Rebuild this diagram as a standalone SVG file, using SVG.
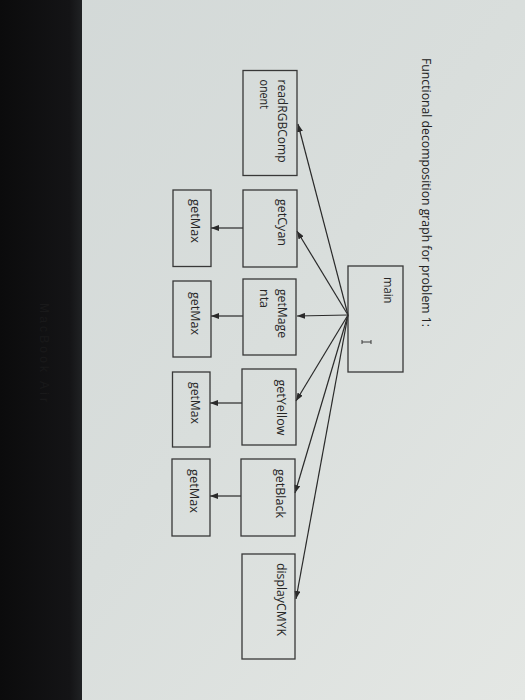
<svg xmlns="http://www.w3.org/2000/svg" width="525" height="700" viewBox="0 0 525 700">
<defs>
<linearGradient id="page" x1="0" y1="0" x2="1" y2="1">
<stop offset="0" stop-color="#d2d8d7"/>
<stop offset="0.5" stop-color="#d9dedc"/>
<stop offset="1" stop-color="#e4e7e4"/>
</linearGradient>
<linearGradient id="bezel" x1="0" y1="0" x2="1" y2="0">
<stop offset="0" stop-color="#0b0b0c"/>
<stop offset="0.85" stop-color="#141416"/>
<stop offset="1" stop-color="#202224"/>
</linearGradient>
<marker id="ah" markerUnits="userSpaceOnUse" markerWidth="8" markerHeight="6" refX="8" refY="3" orient="auto">
<path d="M0,0 L8,3 L0,6 Z" fill="#2a2a2a"/>
</marker>
<style>
.box{fill:none;stroke:#383838;stroke-width:1.3}
.lbl{font-family:"Open Sans","Liberation Sans",Arial,sans-serif;font-size:12px;fill:#262626}
.ttl{font-family:"Open Sans","Liberation Sans",Arial,sans-serif;font-size:13.5px;fill:#222222}
.ln{stroke:#2a2a2a;stroke-width:1.2;fill:none;marker-end:url(#ah)}
</style>
</defs>
<rect x="0" y="0" width="525" height="700" fill="url(#page)"/>
<rect x="0" y="0" width="82" height="700" fill="url(#bezel)"/>
<text transform="translate(40,303) rotate(90)" font-family="Liberation Sans, Arial, sans-serif" font-size="12" fill="#19191a" textLength="99">MacBook Air</text>

<text class="ttl" transform="translate(422,58) rotate(90)" textLength="269" lengthAdjust="spacingAndGlyphs">Functional decomposition graph for problem 1:</text>

<g id="connectors">
<line class="ln" x1="348" y1="315" x2="298" y2="124"/>
<line class="ln" x1="348" y1="315" x2="297" y2="231"/>
<line class="ln" x1="348" y1="315" x2="297" y2="316"/>
<line class="ln" x1="348" y1="315" x2="296" y2="401"/>
<line class="ln" x1="348" y1="315" x2="295" y2="493"/>
<line class="ln" x1="348" y1="315" x2="296" y2="599"/>
<line class="ln" x1="243" y1="228" x2="211" y2="228"/>
<line class="ln" x1="243" y1="316" x2="211" y2="316"/>
<line class="ln" x1="242" y1="403" x2="210" y2="403"/>
<line class="ln" x1="241" y1="496" x2="210" y2="496"/>
</g>

<g id="main">
<rect class="box" x="348" y="266" width="55" height="106"/>
<text class="lbl" transform="translate(384,277) rotate(90)" textLength="26.5" lengthAdjust="spacingAndGlyphs">main</text>
<path d="M362,342 L371,342 M362,340 L362,344 M371,340 L371,344" stroke="#3a3a3a" stroke-width="1" fill="none"/>
</g>

<g id="readRGBComponent">
<rect class="box" x="243" y="70.5" width="54" height="105"/>
<text class="lbl" transform="translate(278,79.5) rotate(90)" textLength="83" lengthAdjust="spacingAndGlyphs">readRGBComp</text>
<text class="lbl" transform="translate(260,79.5) rotate(90)" textLength="29.5" lengthAdjust="spacingAndGlyphs">onent</text>
</g>

<g id="getCyan">
<rect class="box" x="243" y="190" width="54" height="77"/>
<text class="lbl" transform="translate(278,199) rotate(90)" textLength="47" lengthAdjust="spacingAndGlyphs">getCyan</text>
</g>

<g id="getMagenta">
<rect class="box" x="243" y="279" width="53" height="76"/>
<text class="lbl" transform="translate(278,289) rotate(90)" textLength="49" lengthAdjust="spacingAndGlyphs">getMage</text>
<text class="lbl" transform="translate(260,289) rotate(90)" textLength="19" lengthAdjust="spacingAndGlyphs">nta</text>
</g>

<g id="getYellow">
<rect class="box" x="242" y="369" width="54" height="76"/>
<text class="lbl" transform="translate(277,379.5) rotate(90)" textLength="56" lengthAdjust="spacingAndGlyphs">getYellow</text>
</g>

<g id="getBlack">
<rect class="box" x="241" y="459" width="54" height="77"/>
<text class="lbl" transform="translate(276,469) rotate(90)" textLength="49" lengthAdjust="spacingAndGlyphs">getBlack</text>
</g>

<g id="displayCMYK">
<rect class="box" x="242" y="554" width="53" height="105"/>
<text class="lbl" transform="translate(277,563) rotate(90)" textLength="73" lengthAdjust="spacingAndGlyphs">displayCMYK</text>
</g>

<g id="getMax1">
<rect class="box" x="173" y="190" width="38" height="76.5"/>
<text class="lbl" transform="translate(191,199) rotate(90)" textLength="44" lengthAdjust="spacingAndGlyphs">getMax</text>
</g>
<g id="getMax2">
<rect class="box" x="173" y="281" width="38" height="76"/>
<text class="lbl" transform="translate(191,292) rotate(90)" textLength="43" lengthAdjust="spacingAndGlyphs">getMax</text>
</g>
<g id="getMax3">
<rect class="box" x="172.5" y="372" width="37.5" height="75"/>
<text class="lbl" transform="translate(190.5,382) rotate(90)" textLength="42" lengthAdjust="spacingAndGlyphs">getMax</text>
</g>
<g id="getMax4">
<rect class="box" x="172" y="459" width="38" height="77"/>
<text class="lbl" transform="translate(190,469) rotate(90)" textLength="44" lengthAdjust="spacingAndGlyphs">getMax</text>
</g>
</svg>
